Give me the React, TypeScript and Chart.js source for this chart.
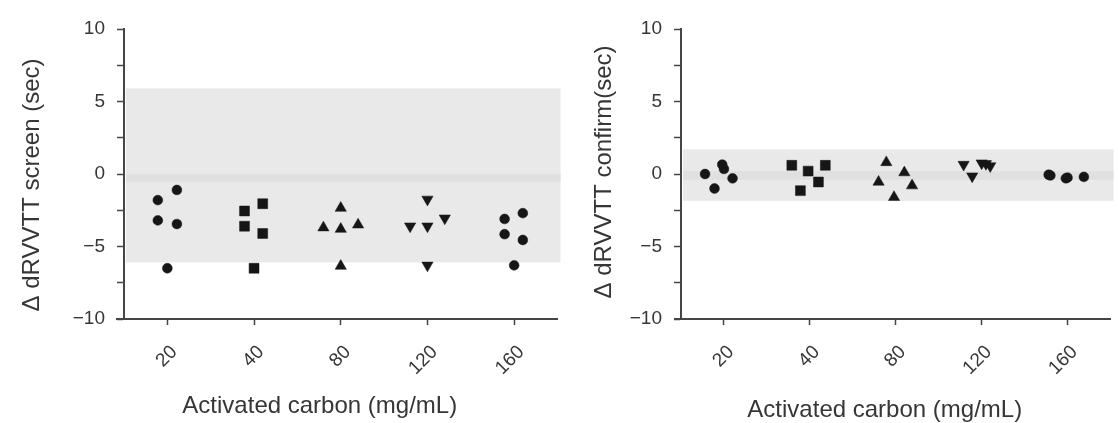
import React, { useEffect, useRef } from 'react';
import { Chart, registerables } from 'chart.js';

Chart.register(...registerables);

// ---------- data ----------
const categories = ['20', '40', '80', '120', '160'];
const yTicks = [-10, -7.5, -5, -2.5, 0, 2.5, 5, 7.5, 10];
const xTitleText = 'Activated carbon (mg/mL)';
const screenTitleText = '\u0394 dRVVTT screen (sec)';
const confirmTitleText = '\u0394 dRVVTT confirm(sec)';

// Left panel: Δ dRVVTT screen (sec)
const screen20 = [-1.8, -1.1, -3.2, -3.45, -6.5];
const screen40 = [-2.55, -2.05, -3.6, -4.1, -6.5];
const screen80 = [-2.35, -3.7, -3.8, -3.5, -6.35];
const screen120 = [-1.75, -3.6, -3.6, -3.05, -6.3];
const screen160 = [-3.1, -2.7, -4.15, -4.55, -6.3];
const screen20X = [-0.11, 0.11, -0.11, 0.11, 0];
const screen40X = [-0.11, 0.1, -0.11, 0.1, 0];
const screen80X = [0, -0.2, 0, 0.2, 0];
const screen120X = [0, -0.2, 0, 0.2, 0];
const screen160X = [-0.11, 0.1, -0.11, 0.1, 0];
const screenBand = [5.9, -6.1];
const screenMean = [0.0, -0.55];

// Right panel: Δ dRVVTT confirm(sec)
const confirm20 = [0.0, -1.0, 0.65, 0.35, -0.3];
const confirm40 = [0.6, -1.15, 0.2, -0.55, 0.6];
const confirm80 = [-0.55, 0.8, -1.6, 0.1, -0.8];
const confirm120 = [0.65, -0.15, 0.75, 0.7, 0.55];
const confirm160 = [-0.05, -0.1, -0.3, -0.25, -0.2];
const confirm20X = [-0.22, -0.11, -0.02, 0.0, 0.1];
const confirm40X = [-0.21, -0.11, -0.02, 0.1, 0.18];
const confirm80X = [-0.2, -0.11, -0.02, 0.1, 0.19];
const confirm120X = [-0.21, -0.11, 0.0, 0.05, 0.1];
const confirm160X = [-0.22, -0.2, -0.02, 0.0, 0.19];
const confirmBand = [1.7, -1.85];
const confirmMean = [0.2, -0.4];

const markerStyles = ['circle', 'rect', 'triangle', 'triangle', 'circle'];
const markerRotations = [0, 0, 0, 180, 0];
const markerRadius = [4.9, 7, 6.5, 6.5, 4.9];

const INK = '#161616';
const AXIS = '#454545';
const TEXT = '#363636';
const FONT = "'Liberation Sans', Arial, Helvetica, sans-serif";

const bandPlugin = {
  id: 'band',
  beforeDraw(chart: any, _args: any, opts: any) {
    const { ctx, chartArea, scales } = chart;
    const y = scales.y;
    const top = y.getPixelForValue(opts.band[0]);
    const bottom = y.getPixelForValue(opts.band[1]);
    const left = chartArea.left + 2;
    const width = chartArea.right - left + opts.extend;
    ctx.save();
    ctx.fillStyle = '#e9e9e9';
    ctx.fillRect(left, top, width, bottom - top);
    const mt = y.getPixelForValue(opts.mean[0]);
    const mb = y.getPixelForValue(opts.mean[1]);
    ctx.fillStyle = '#e0e0e0';
    ctx.fillRect(left, mt, width, mb - mt);
    ctx.restore();
  },
};

// axis titles and the small x-axis overhang, placed relative to the chart area
const titlePlugin = {
  id: 'axisTitles',
  afterDraw(chart: any, _args: any, opts: any) {
    const { ctx, chartArea } = chart;
    const cx = (chartArea.left + chartArea.right) / 2;
    const cy = (chartArea.top + chartArea.bottom) / 2;
    ctx.save();
    ctx.strokeStyle = AXIS;
    ctx.lineWidth = 2;
    ctx.beginPath();
    ctx.moveTo(chartArea.left - opts.overhang, chartArea.bottom);
    ctx.lineTo(chartArea.left, chartArea.bottom);
    ctx.stroke();
    ctx.fillStyle = TEXT;
    ctx.font = `24px ${FONT}`;
    ctx.textAlign = 'center';
    ctx.textBaseline = 'middle';
    ctx.fillText(opts.xText, cx + opts.xShift, opts.xY);
    ctx.translate(opts.yX, cy + opts.yShift);
    ctx.rotate(-Math.PI / 2);
    ctx.fillText(opts.yText, 0, 0);
    ctx.restore();
  },
};

function buildDatasets(groups: number[][], offsets: number[][]) {
  return groups.map((vals, i) => ({
    label: categories[i],
    data: vals.map((v, j) => ({ x: i + offsets[i][j], y: v })),
    pointStyle: markerStyles[i],
    rotation: markerRotations[i],
    pointRadius: markerRadius[i],
    backgroundColor: INK,
    borderColor: INK,
    borderWidth: 0.5,
    showLine: false,
  }));
}

type PanelProps = {
  width: number;
  left: number;
  yTitle: string;
  groups: number[][];
  offsets: number[][];
  band: number[];
  mean: number[];
  yAxisWidth: number;
  padRight: number;
  titles: { xShift: number; xY: number; yX: number; yShift: number; overhang: number };
};

function Panel(p: PanelProps) {
  const ref = useRef<HTMLCanvasElement | null>(null);
  useEffect(() => {
    if (!ref.current) return;
    const chart = new Chart(ref.current, {
      type: 'scatter',
      data: { datasets: buildDatasets(p.groups, p.offsets) as any },
      plugins: [bandPlugin, titlePlugin],
      options: {
        responsive: false,
        animation: false,
        layout: { padding: { left: 0, right: p.padRight, top: 29, bottom: 0 } },
        plugins: {
          legend: { display: false },
          tooltip: { enabled: false },
          band: { band: p.band, mean: p.mean, extend: 3 },
          axisTitles: { xText: xTitleText, yText: p.yTitle, ...p.titles },
        } as any,
        scales: {
          x: {
            type: 'linear',
            min: -0.5,
            max: 4.5,
            afterBuildTicks: (s: any) => {
              s.ticks = categories.map((_, i) => ({ value: i }));
            },
            afterFit: (s: any) => {
              s.height = 104;
            },
            ticks: {
              autoSkip: false,
              minRotation: 45,
              maxRotation: 45,
              padding: 16,
              labelOffset: 7,
              color: TEXT,
              font: { family: FONT, size: 19 },
              callback: (v: any) => categories[Math.round(Number(v))] ?? '',
            },
            grid: {
              display: true,
              drawOnChartArea: false,
              drawTicks: true,
              tickLength: 6,
              tickWidth: 1.5,
              tickColor: AXIS,
            },
            border: { display: true, color: AXIS, width: 2 },
            title: { display: false },
          },
          y: {
            type: 'linear',
            min: -10,
            max: 10,
            afterBuildTicks: (s: any) => {
              s.ticks = yTicks.map((v) => ({ value: v }));
            },
            afterFit: (s: any) => {
              s.width = p.yAxisWidth;
            },
            ticks: {
              padding: 12,
              color: TEXT,
              font: { family: FONT, size: 19 },
              callback: (v: any) => {
                const n = Number(v);
                if (n % 5 !== 0) return '';
                return n < 0 ? '\u2212' + Math.abs(n) : String(n);
              },
            },
            grid: {
              display: true,
              drawOnChartArea: false,
              drawTicks: true,
              tickLength: 7,
              tickWidth: 1.5,
              tickColor: AXIS,
            },
            border: { display: true, color: AXIS, width: 2 },
            title: { display: false },
          },
        },
      } as any,
    });
    return () => chart.destroy();
  }, []);
  return (
    <canvas
      ref={ref}
      width={p.width}
      height={423}
      style={{ position: 'absolute', left: p.left, top: 0 }}
    />
  );
}

export default function App() {
  return (
    <div style={{ position: 'absolute', left: 0, top: 0, width: 1118, height: 423, background: '#fff', overflow: 'hidden' }}>
      <Panel
        width={565}
        left={0}
        yTitle={screenTitleText}
        groups={[screen20, screen40, screen80, screen120, screen160]}
        offsets={[screen20X, screen40X, screen80X, screen120X, screen160X]}
        band={screenBand}
        mean={screenMean}
        yAxisWidth={124}
        padRight={5}
        titles={{ xShift: -21, xY: 406, yX: 32, yShift: 11, overhang: 8 }}
      />
      <Panel
        width={553}
        left={565}
        yTitle={confirmTitleText}
        groups={[confirm20, confirm40, confirm80, confirm120, confirm160]}
        offsets={[confirm20X, confirm40X, confirm80X, confirm120X, confirm160X]}
        band={confirmBand}
        mean={confirmMean}
        yAxisWidth={116}
        padRight={2}
        titles={{ xShift: -11, xY: 410, yX: 39, yShift: -2, overhang: 7 }}
      />
    </div>
  );
}
